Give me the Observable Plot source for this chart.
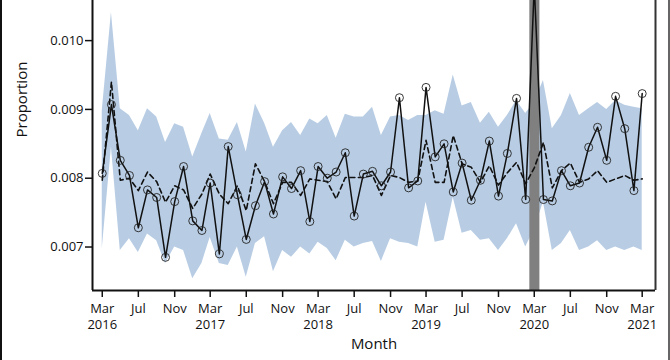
<!DOCTYPE html>
<html><head><meta charset="utf-8">
<script src="https://cdn.jsdelivr.net/npm/d3@7"></script>
<script src="https://cdn.jsdelivr.net/npm/@observablehq/plot@0.6"></script>
<style>
html,body{margin:0;padding:0;background:#fff;}
#wrap{position:relative;width:670px;height:360px;overflow:hidden;}
#wrap svg{display:block;}
.edge{position:absolute;top:0;width:2px;height:360px;}
</style></head><body>
<div id="wrap"><div class="edge" style="left:0;background:#111"></div><div class="edge" style="right:0;background:#666"></div></div>
<script>
// Months: Mar 2016 .. Mar 2021
const firstMonth = "2016-03-01";
const afterLastMonth = "2021-04-01";

const observed = [
  0.00807, 0.00907, 0.00826, 0.00804, 0.00728, 0.00783, 0.00772, 0.00685, 0.00766, 0.00817,
  0.00738, 0.00724, 0.00793, 0.00690, 0.00846, 0.00776, 0.00711, 0.00760, 0.00795, 0.00748,
  0.00802, 0.00785, 0.00811, 0.00737, 0.00817, 0.00800, 0.00809, 0.00837, 0.00745, 0.00806,
  0.00810, 0.00789, 0.00809, 0.00917, 0.00786, 0.00796, 0.00932, 0.00831, 0.00850, 0.00780,
  0.00822, 0.00768, 0.00797, 0.00854, 0.00774, 0.00836, 0.00916, 0.00769, 0.01080, 0.00769,
  0.00767, 0.00811, 0.00789, 0.00793, 0.00845, 0.00874, 0.00826, 0.00919, 0.00872, 0.00782,
  0.00923
];
const expected = [
  0.00797, 0.00940, 0.00797, 0.00800, 0.00782, 0.00809, 0.00795, 0.00765, 0.00789, 0.00783,
  0.00756, 0.00777, 0.00806, 0.00777, 0.00763, 0.00789, 0.00753, 0.00821, 0.00795, 0.00763,
  0.00794, 0.00794, 0.00775, 0.00799, 0.00797, 0.00795, 0.00770, 0.00801, 0.00801, 0.00801,
  0.00804, 0.00775, 0.00804, 0.00801, 0.00794, 0.00796, 0.00855, 0.00794, 0.00794, 0.00862,
  0.00821, 0.00816, 0.00794, 0.00818, 0.00790, 0.00808, 0.00823, 0.00792, 0.00815, 0.00852,
  0.00786, 0.00811, 0.00822, 0.00794, 0.00799, 0.00811, 0.00794, 0.00799, 0.00804, 0.00797,
  0.00799
];
const upper = [
  0.00898, 0.01041, 0.00901, 0.00891, 0.00869, 0.00901, 0.00889, 0.00852, 0.00879, 0.00874,
  0.00831, 0.00865, 0.00894, 0.00857, 0.00855, 0.00881, 0.00838, 0.00908, 0.00880, 0.00845,
  0.00869, 0.00881, 0.00862, 0.00886, 0.00879, 0.00891, 0.00858, 0.00893, 0.00889, 0.00889,
  0.00903, 0.00862, 0.00889, 0.00891, 0.00884, 0.00891, 0.00891, 0.00898, 0.00893, 0.00950,
  0.00905, 0.00910, 0.00880, 0.00896, 0.00874, 0.00891, 0.00913, 0.00894, 0.00910, 0.00942,
  0.00872, 0.00891, 0.00923, 0.00891, 0.00901, 0.00910, 0.00900, 0.00913, 0.00906, 0.00903,
  0.00901
];
const lower = [
  0.00697, 0.00845, 0.00695, 0.00712, 0.00692, 0.00719, 0.00709, 0.00676, 0.00700, 0.00695,
  0.00654, 0.00676, 0.00714, 0.00676, 0.00673, 0.00700, 0.00656, 0.00705, 0.00715, 0.00664,
  0.00695, 0.00685, 0.00700, 0.00690, 0.00707, 0.00698, 0.00680, 0.00710, 0.00700, 0.00705,
  0.00708, 0.00679, 0.00712, 0.00707, 0.00705, 0.00700, 0.00765, 0.00707, 0.00710, 0.00772,
  0.00720, 0.00724, 0.00710, 0.00712, 0.00695, 0.00712, 0.00734, 0.00700, 0.00725, 0.00765,
  0.00695, 0.00705, 0.00724, 0.00695, 0.00700, 0.00709, 0.00695, 0.00700, 0.00695, 0.00700,
  0.00695
];

const xTickMonths = [
  "2016-03-01","2016-07-01","2016-11-01","2017-03-01","2017-07-01","2017-11-01",
  "2018-03-01","2018-07-01","2018-11-01","2019-03-01","2019-07-01","2019-11-01",
  "2020-03-01","2020-07-01","2020-11-01","2021-03-01"
];
const yTickValues = [0.007, 0.008, 0.009, 0.010];
const highlightPeriod = [{start: "2020-02-15", end: "2020-03-20"}];

const xDomain = [new Date("2016-01-28"), new Date("2021-04-15")];
const yDomain = [0.006368, 0.010583];

const months = d3.utcMonth.range(new Date(firstMonth), new Date(afterLastMonth));
const data = months.map((m, i) => ({month: m, observed: observed[i], expected: expected[i], upper: upper[i], lower: lower[i]}));

const fmtMonth = d3.utcFormat("%b");
const tickFormat = d => d.getUTCMonth() === 2 ? `${fmtMonth(d)}\n${d.getUTCFullYear()}` : fmtMonth(d);

const chart = Plot.plot({
  width: 670,
  height: 360,
  marginLeft: 92,
  marginRight: 15,
  marginTop: 0,
  marginBottom: 70,
  style: {fontFamily: "'Open Sans', sans-serif", fontSize: "13px", color: "#111", background: "white"},
  x: {type: "utc", domain: xDomain},
  y: {domain: yDomain},
  marks: [
    Plot.areaY(data, {x: "month", y1: "lower", y2: "upper", fill: "#b8cde4"}),
    Plot.rect(highlightPeriod, {x1: d => new Date(d.start), x2: d => new Date(d.end), fill: "#808080"}),
    Plot.line(data, {x: "month", y: "expected", stroke: "#111", strokeWidth: 1.6, strokeDasharray: "5,3.5", clip: true}),
    Plot.line(data, {x: "month", y: "observed", stroke: "#111", strokeWidth: 1.5, clip: true}),
    Plot.dot(data, {x: "month", y: "observed", r: 4, stroke: "#222", strokeWidth: 0.9, fill: "none", clip: true}),
    Plot.axisY({ticks: yTickValues, tickFormat: d3.format(".3f"), tickSize: 7, tickPadding: 2, label: null, strokeWidth: 1.5}),
    Plot.axisX({ticks: xTickMonths.map(d => new Date(d)), tickFormat, tickSize: 7, tickPadding: 3, label: null, lineHeight: 1.3, strokeWidth: 1.5}),
    Plot.ruleX([xDomain[0]], {stroke: "#111", strokeWidth: 2}),
    Plot.ruleX([xDomain[1]], {stroke: "#333", strokeWidth: 2}),
    Plot.ruleY([yDomain[0]], {stroke: "#111", strokeWidth: 2}),
    Plot.text(["Proportion"], {frameAnchor: "left", dx: -70, dy: -8, rotate: -90, fontSize: 15, fill: "#111"}),
    Plot.text(["Month"], {frameAnchor: "bottom", dy: 58, fontSize: 15, fill: "#111"})
  ]
});
document.getElementById("wrap").prepend(chart);
</script>
</body></html>
